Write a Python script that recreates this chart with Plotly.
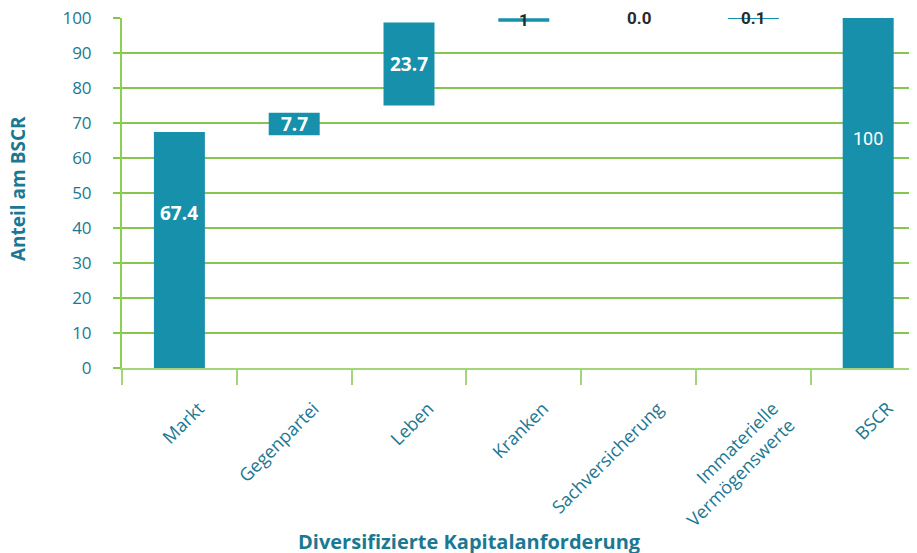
import plotly.graph_objects as go

categories = ["Markt", "Gegenpartei", "Leben", "Kranken", "Sachversicherung",
              "Immaterielle<br>Vermögenswerte", "BSCR"]
value_labels = ["67.4", "7.7", "23.7", "1", "0.0", "0.1", "100"]
bar_base = [0, 66.5, 75.0, 98.9, 99.9, 99.9, 0]
bar_height = [67.4, 6.4, 23.7, 1.0, 0.0, 0.15, 100]
is_total = [True, False, False, False, False, False, True]

BAR = "#1790ab"
GRID = "#84c64e"
AXIS = "#a3d679"
TEAL = "#1b7893"
FONT = "Liberation Sans Narrow, Open Sans, sans-serif"

idx = list(range(len(categories)))

fig = go.Figure()
fig.add_trace(go.Bar(x=idx, y=bar_height, base=bar_base, width=0.444,
                     marker=dict(color=BAR, line=dict(width=0)),
                     hoverinfo="skip", showlegend=False))
# invisible trace to activate the label axis
fig.add_trace(go.Scatter(x=idx, y=[None] * len(idx), xaxis="x2",
                         mode="markers", showlegend=False, hoverinfo="skip"))

for i, lab in enumerate(value_labels):
    h = bar_height[i]
    if is_total[i]:
        yy = bar_base[i] + h * 0.655
    else:
        yy = bar_base[i] + h / 2
    inside = h > 3
    if i == len(categories) - 1:
        fnt = dict(family="Roboto, sans-serif", size=18, color="white")
    elif inside:
        fnt = dict(family=FONT, size=19, color="white", weight="bold")
    else:
        fnt = dict(family="Roboto, sans-serif", size=17, color="#2a2a2a", weight="bold")
    fig.add_annotation(x=i, y=yy, xref="x", yref="y", text=lab, showarrow=False,
                       font=fnt, xanchor="center", yanchor="middle")

# page body has an 8px margin; layout margins compensate for it
ML, MT, MB, MR = 114, 10, 193, 8
PH = 553 - MT - MB
PW = 917 - ML - MR

fig.add_annotation(x=(18 - 8 - ML) / PW, y=(MT + PH - (189 - 8)) / PH,
                   xref="paper", yref="paper",
                   text="<b>Anteil am BSCR</b>", textangle=-90, showarrow=False,
                   font=dict(family=FONT, size=19, color=TEAL),
                   xanchor="center", yanchor="middle")
fig.add_annotation(x=(469 - 8 - ML) / PW, y=(MT + PH - (541 - 8)) / PH,
                   xref="paper", yref="paper",
                   text="<b>Diversifizierte Kapitalanforderung</b>", showarrow=False,
                   font=dict(family=FONT, size=20, color=TEAL),
                   xanchor="center", yanchor="middle")

xr = [-0.5, -0.5 + PW / 114.8]
fig.update_layout(
    width=917, height=553,
    margin=dict(l=ML, r=MR, t=MT, b=MB, autoexpand=False),
    plot_bgcolor="white", paper_bgcolor="white",
    font=dict(family=FONT, color=TEAL, size=18),
    xaxis=dict(range=xr, tickvals=[i - 0.5 for i in range(len(idx) + 1)],
               showticklabels=False, ticks="outside", ticklen=15, tickwidth=2,
               tickcolor=AXIS, showgrid=False, zeroline=False, automargin=False,
               showline=True, linecolor=AXIS, linewidth=2),
    xaxis2=dict(range=xr, overlaying="x", side="bottom", automargin=False,
                tickvals=[i + 0.17 for i in idx], ticktext=categories,
                tickangle=-45, ticks="outside", ticklen=22,
                tickcolor="rgba(0,0,0,0)", showgrid=False, zeroline=False,
                showline=False, tickfont=dict(family=FONT, size=18, color=TEAL)),
    yaxis=dict(range=[0, 100], tickvals=list(range(0, 101, 10)), automargin=False,
               ticklabeloverflow="allow", ticklabelstandoff=18,
               showgrid=True, gridcolor=GRID, gridwidth=1.5,
               ticks="outside", ticklen=7, tickcolor=GRID, tickwidth=1.5,
               showline=True, linecolor="#8dcf50", linewidth=2, zeroline=False,
               tickfont=dict(family=FONT, size=17, color=TEAL)),
    bargap=0.556,
)

fig.write_html("out.html")
